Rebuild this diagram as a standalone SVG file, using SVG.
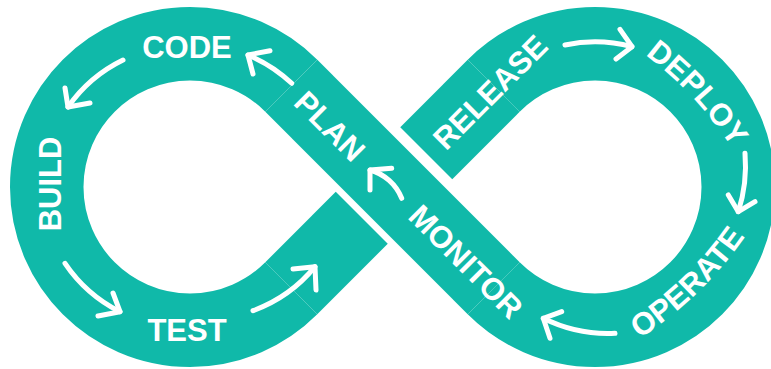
<svg xmlns="http://www.w3.org/2000/svg" width="771" height="369" viewBox="0 0 771 369">
  <style>
    .band { fill: none; stroke: #10b9a9; stroke-width: 73.5; stroke-linecap: butt; }
    .label { fill: #ffffff; font-family: "Liberation Sans", Arial, Helvetica, sans-serif; font-weight: bold; font-size: 31px; text-anchor: middle; }
    .flow { fill: none; stroke: #ffffff; stroke-width: 5; stroke-linecap: round; stroke-linejoin: round; }
  </style>
  <defs>
    <path id="deployArc" d="M581.4,16.8 A360,360 0 0 1 765.4,214.1"/>
    <path id="operateArc" d="M575.7,371.6 A380,380 0 0 0 780.5,173.9"/>
  </defs>

  <rect width="771" height="369" fill="#ffffff"/>

  <!-- infinity band: two loops joined by crossing strips -->
  <g id="band">
    <!-- lower-left to upper-right strip, split where the other strip passes over -->
    <path class="band" d="M291.29,288.29 L361.75,217.75"/>
    <path class="band" d="M493.71,85.71 L426.25,153.25"/>
    <!-- left loop -->
    <path class="band" d="M291.29,85.71 A143.25,143.25 0 1 0 291.29,288.29"/>
    <!-- right loop -->
    <path class="band" d="M493.71,85.71 A143.25,143.25 0 1 1 493.71,288.29"/>
    <!-- upper-left to lower-right strip, drawn on top -->
    <path class="band" d="M291.29,85.71 L493.71,288.29"/>
  </g>

  <!-- stage labels -->
  <g id="plan"><text class="label" transform="translate(322.2,133.8) rotate(45)">PLAN</text></g>
  <g id="code"><text class="label" x="187" y="58">CODE</text></g>
  <g id="build"><text class="label" transform="translate(61,184) rotate(-90)">BUILD</text></g>
  <g id="test"><text class="label" x="187" y="341">TEST</text></g>
  <g id="release"><text class="label" transform="translate(497.8,99.8) rotate(-45)">RELEASE</text></g>
  <g id="deploy"><text class="label"><textPath href="#deployArc" startOffset="50%">DEPLOY</textPath></text></g>
  <g id="operate"><text class="label"><textPath href="#operateArc" startOffset="50%">OPERATE</textPath></text></g>
  <g id="monitor"><text class="label" transform="translate(458.2,269.3) rotate(45)">MONITOR</text></g>

  <!-- flow arrows between stages -->
  <g id="connectors">
    <!-- plan -> code -->
    <path class="flow" d="M291.7,83.3 A144,144 0 0 0 248,55"/>
    <path class="flow" d="M270,50.7 L248,55 L253,74"/>
    <!-- code -> build -->
    <path class="flow" d="M123,60 A144,144 0 0 0 68,107"/>
    <path class="flow" d="M65,88 L68,107 L90,103"/>
    <!-- build -> test -->
    <path class="flow" d="M65,263.3 A145,145 0 0 0 120,311.7"/>
    <path class="flow" d="M113,293 L120,311.7 L98,316"/>
    <!-- test -> release -->
    <path class="flow" d="M253,310.7 A143,143 0 0 0 315,266.7"/>
    <path class="flow" d="M293,269 L315,266.7 L316,290"/>
    <!-- release -> deploy -->
    <path class="flow" d="M565,45 A145,145 0 0 1 632,46.7"/>
    <path class="flow" d="M620,29.3 L632,46.7 L616,59"/>
    <!-- deploy -> operate -->
    <path class="flow" d="M745,153.3 A150,150 0 0 1 738.3,211.7"/>
    <path class="flow" d="M728.3,195 L738.3,211.7 L755,201.7"/>
    <!-- operate -> monitor -->
    <path class="flow" d="M615,333.3 A145,145 0 0 1 543.3,318.3"/>
    <path class="flow" d="M561.7,311.7 L543.3,318.3 L550,338.3"/>
    <!-- monitor -> plan -->
    <path class="flow" d="M401.7,198.3 A48,48 0 0 0 370,170"/>
    <path class="flow" d="M391.7,168.3 L370,170 L370,190"/>
  </g>
</svg>
